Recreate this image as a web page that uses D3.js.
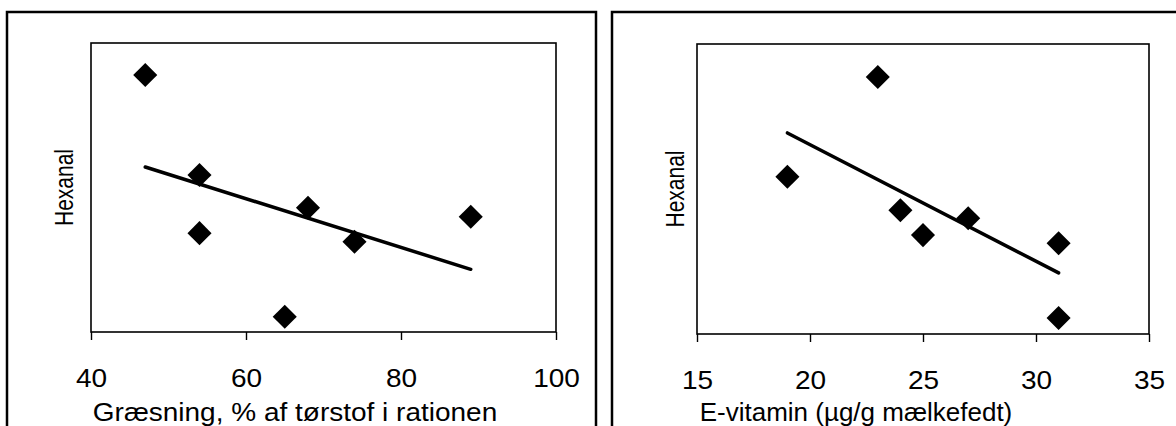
<!DOCTYPE html>
<html lang="da">
<head>
<meta charset="utf-8">
<title>Hexanal</title>
<script src="https://cdn.jsdelivr.net/npm/d3@7"></script>
<style>
  body { margin: 0; background: #fff; }
  svg { display: block; font-family: "Liberation Sans", Arial, sans-serif; }
</style>
</head>
<body>
<svg id="chart" width="1176" height="426"></svg>
<script>

// data (hexanal has no scale, 0-100 relative units)
var grazing = [47, 54, 54, 65, 68, 74, 89];
var hexanalGrazing = [88.9, 54.3, 34.2, 5.3, 43.0, 31.2, 39.9];
var grazingTicks = [40, 60, 80, 100];

var vitaminE = [19, 23, 24, 25, 27, 31, 31];
var hexanalVitE = [54.2, 88.6, 42.7, 34.1, 39.9, 31.3, 5.5];
var vitaminTicks = [15, 20, 25, 30, 35];

var svg = d3.select('#chart');
var stretch = 1.12; // the original text is a bit wide

// least squares line through the points
function fit(xs, ys) {
  var mx = d3.mean(xs), my = d3.mean(ys);
  var sxy = d3.sum(xs, function(x, i) { return (x - mx) * (ys[i] - my); });
  var sxx = d3.sum(xs, function(x) { return (x - mx) * (x - mx); });
  var b = sxy / sxx;
  return function(x) { return my + b * (x - mx); };
}

function panel(cfg) {
  // outer chart frame
  svg.append('rect')
    .attr('x', cfg.frame[0]).attr('y', cfg.frame[1])
    .attr('width', cfg.frame[2]).attr('height', cfg.frame[3])
    .attr('fill', 'none').attr('stroke', '#000').attr('stroke-width', 2.5);

  var x = d3.scaleLinear().domain(d3.extent(cfg.ticks)).range([cfg.plot[0], cfg.plot[2]]);
  var y = d3.scaleLinear().domain([0, 100]).range([cfg.plot[3], cfg.plot[1]]);

  // plot area box
  svg.append('rect')
    .attr('x', cfg.plot[0]).attr('y', cfg.plot[1])
    .attr('width', cfg.plot[2] - cfg.plot[0]).attr('height', cfg.plot[3] - cfg.plot[1])
    .attr('fill', 'none').attr('stroke', '#000').attr('stroke-width', 1.6);

  var axis = svg.append('g')
    .attr('transform', 'translate(0,' + cfg.plot[3] + ')')
    .call(d3.axisBottom(x).tickValues(cfg.ticks).tickSize(8).tickPadding(47).tickSizeOuter(0));
  axis.attr('font-size', null).attr('font-family', null);
  axis.select('.domain').remove();
  axis.selectAll('line').attr('stroke', '#000').attr('stroke-width', 1.4);
  axis.selectAll('text')
    .attr('font-size', 25)
    .attr('fill', '#000').attr('dy', 0)
    .attr('transform', 'scale(' + stretch + ',1)');

  svg.append('text')
    .attr('transform', 'translate(' + cfg.titleX + ',421) scale(' + cfg.titleStretch + ',1)')
    .attr('text-anchor', 'middle').attr('font-size', 25)
    .text(cfg.title);

  svg.append('text')
    .attr('transform', 'translate(' + cfg.yLabelX + ',' + ((cfg.plot[1] + cfg.plot[3]) / 2) + ') rotate(-90) scale(1,1.19)')
    .attr('text-anchor', 'middle').attr('font-size', 21)
    .text('Hexanal');

  var line = fit(cfg.xs, cfg.ys);
  var ends = d3.extent(cfg.xs);
  svg.append('line')
    .attr('x1', x(ends[0])).attr('y1', y(line(ends[0])))
    .attr('x2', x(ends[1])).attr('y2', y(line(ends[1])))
    .attr('stroke', '#000').attr('stroke-width', 3.5).attr('stroke-linecap', 'round');

  svg.append('g').selectAll('path')
    .data(cfg.xs)
    .join('path')
    .attr('d', d3.symbol(d3.symbolSquare, 290))
    .attr('transform', function(d, i) {
      return 'translate(' + x(d) + ',' + y(cfg.ys[i]) + ') rotate(45)';
    })
    .attr('fill', '#000');
}

panel({
  frame: [7, 12, 589, 430],
  plot: [91, 43, 556, 332],
  ticks: grazingTicks,
  xs: grazing, ys: hexanalGrazing,
  title: 'Græsning, % af tørstof i rationen',
  titleX: 295, titleStretch: 1.12, yLabelX: 73
});

panel({
  frame: [612, 12, 600, 430],
  plot: [697, 44, 1149, 334],
  ticks: vitaminTicks,
  xs: vitaminE, ys: hexanalVitE,
  title: 'E-vitamin (µg/g mælkefedt)',
  titleX: 856, titleStretch: 1.04, yLabelX: 684
});

</script>
</body>
</html>
